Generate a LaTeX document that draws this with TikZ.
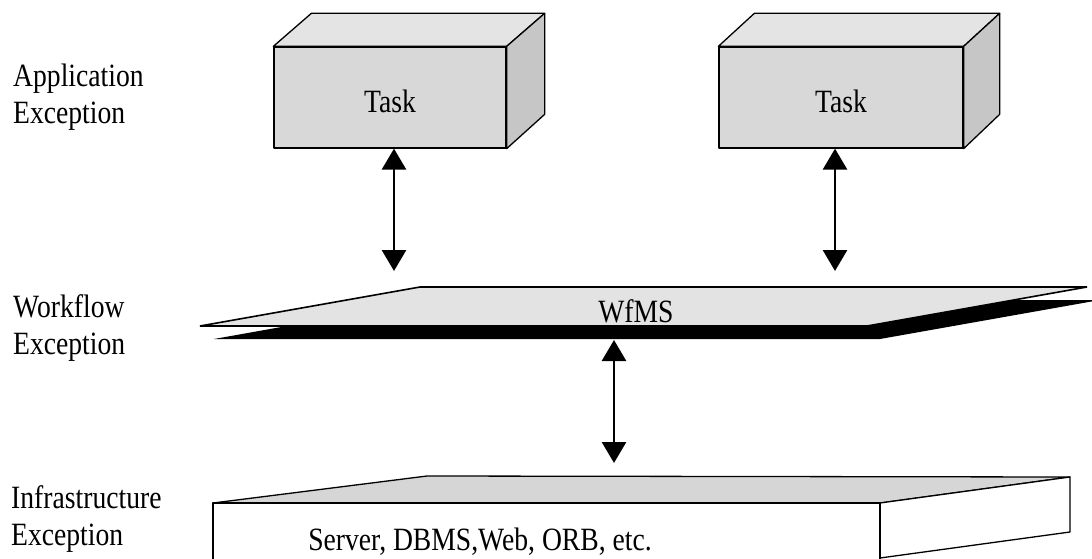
\documentclass[tikz,border=0pt]{standalone}
\usepackage{fontspec}
\setmainfont{Liberation Serif}[FakeStretch=0.85]
\usetikzlibrary{arrows.meta,positioning}
\definecolor{taskfront}{HTML}{D8D8D8}
\definecolor{tasktop}{HTML}{E4E4E4}
\definecolor{taskside}{HTML}{C6C6C6}
\definecolor{planegray}{HTML}{E3E3E3}
\definecolor{infratop}{HTML}{D6D6D6}
\tikzset{
  face/.style={draw, line width=1.3pt, line join=round},
  bigfont/.style={font=\fontsize{32.5}{36.5}\selectfont},
  taskbox/.style={face, fill=taskfront, minimum width=232pt, minimum height=101pt, inner sep=0pt, bigfont, text height=31pt, text depth=0pt},
  biarrow/.style={{Triangle[width=24pt,length=21pt]}-{Triangle[width=24pt,length=21pt]}, line width=2.8pt},
  levellabel/.style={align=left, anchor=west, inner sep=0pt, bigfont}
}
\begin{document}
\begin{tikzpicture}[x=1pt, y=-1pt]
  \useasboundingbox (0,0) rectangle (1092,559);

  % level labels
  \node[levellabel] (lblapp) at (13,97) {Application\\Exception};
  \node[levellabel] (lblwf) at (13,328) {Workflow\\Exception};
  \node[levellabel] (lblinfra) at (11,519) {Infrastructure\\Exception};

  % task boxes
  \node[taskbox] (task1) at (390,97.5) {Task};
  \node[taskbox, minimum width=244pt] (task2) at (841,97.5) {Task};
  \foreach \t/\dx in {task1/38, task2/36} {
    \draw[face, fill=tasktop] (\t.north west) -- ++(\dx,-33) -- ([shift={(\dx,-33)}]\t.north east) -- (\t.north east) -- cycle;
    \draw[face, fill=taskside] (\t.north east) -- ++(\dx,-33) -- ++(0,101) -- (\t.south east) -- cycle;
  }

  % WfMS plane
  \fill[black] (214,339) -- (433,300) -- (1100,300) -- (880,339) -- cycle;
  \draw[line width=1.6pt, fill=planegray] (200,326) -- (420,287) -- (1087,287) -- (867,326) -- cycle;
  \node[bigfont] (wfms) at (636,311) {WfMS};
  \coordinate (planeL) at (394,271);
  \coordinate (planeR) at (835,271);
  \coordinate (planeBot) at (614,340);

  % infrastructure slab
  \draw[face, fill=infratop] (213,503) -- (427,476) -- (1070,477) -- (880,503) -- cycle;
  \draw[face, fill=white] (880,503) -- (1070,477) -- (1070,532) -- (880,558) -- cycle;
  \draw[face] (213,566) -- (213,503) -- (880,503) -- (880,566);
  \node[bigfont, anchor=base] (infra) at (480,550) {Server, DBMS,Web, ORB, etc.};
  \coordinate (infraTop) at (614,463);

  % connectors
  \draw[biarrow] (task1.south -| planeL) -- (planeL);
  \draw[biarrow] (task2.south -| planeR) -- (planeR);
  \draw[biarrow] (planeBot) -- (infraTop);
\end{tikzpicture}
\end{document}
